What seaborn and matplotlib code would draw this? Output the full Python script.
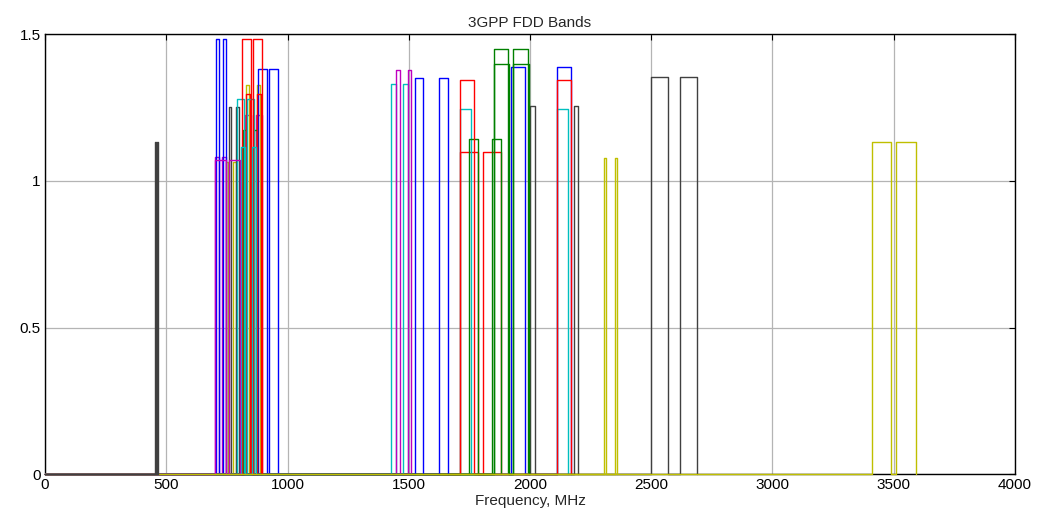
import matplotlib
matplotlib.use('Agg')
import matplotlib.pyplot as plt
import seaborn as sns

# 3GPP FDD bands: uplink / downlink edges in MHz
bands = [1, 2, 3, 4, 5, 6, 7, 8, 9, 10, 11, 12, 13, 14,
         17, 18, 19, 20, 21, 22, 23, 24, 25, 26, 27, 28, 30, 31]
ul_lo = [1920, 1850, 1710, 1710, 824, 830, 2500, 880, 1749.9, 1710, 1427.9, 699, 777, 788,
         704, 815, 830, 832, 1447.9, 3410, 2000, 1626.5, 1850, 814, 807, 703, 2305, 452.5]
ul_hi = [1980, 1910, 1785, 1755, 849, 840, 2570, 915, 1784.9, 1770, 1447.9, 716, 787, 798,
         716, 830, 845, 862, 1462.9, 3490, 2020, 1660.5, 1915, 849, 824, 748, 2315, 457.5]
dl_lo = [2110, 1930, 1805, 2110, 869, 875, 2620, 925, 1844.9, 2110, 1475.9, 729, 746, 758,
         734, 860, 875, 791, 1495.9, 3510, 2180, 1525, 1930, 859, 852, 758, 2350, 462.5]
dl_hi = [2170, 1990, 1880, 2155, 894, 885, 2690, 960, 1879.9, 2170, 1495.9, 746, 756, 768,
         746, 875, 890, 821, 1510.9, 3590, 2200, 1559, 1995, 894, 869, 803, 2360, 467.5]
# plotted height of each band
heights = [1.388, 1.450, 1.098, 1.247, 1.225, 1.327, 1.356, 1.383, 1.142, 1.343, 1.331, 1.083, 1.064, 1.251,
           1.484, 1.174, 1.297, 1.278, 1.378, 1.132, 1.257, 1.352, 1.400, 1.484, 1.115, 1.072, 1.080, 1.132]

# old MATLAB default colour order
colors = [(0, 0, 1), (0, 0.5, 0), (1, 0, 0), (0, 0.75, 0.75),
          (0.75, 0, 0.75), (0.75, 0.75, 0), (0.25, 0.25, 0.25)]

sns.set_style('white')
plt.rcParams['font.family'] = ['Liberation Sans', 'DejaVu Sans']

fig = plt.figure(figsize=(10.38, 5.21), dpi=100)
ax = fig.add_axes([45 / 1038, 1 - 474.3 / 521, 970 / 1038, 440 / 521])

for i, b in enumerate(bands):
    # two rectangles (UL and DL) joined along the baseline, starting at 0 MHz
    r1 = sorted([(ul_lo[i], ul_hi[i]), (dl_lo[i], dl_hi[i])])
    xs = [0]
    ys = [0]
    for lo, hi in r1:
        xs += [lo, lo, hi, hi]
        ys += [0, heights[i], heights[i], 0]
    sns.lineplot(x=xs, y=ys, sort=False, estimator=None, color=colors[i % 7],
                 linewidth=1.0, ax=ax, zorder=3, clip_on=False)

ax.set_xlim(0, 4000)
ax.set_ylim(0, 1.5)
ax.set_xticks(range(0, 4001, 500))
ax.set_yticks([0, 0.5, 1, 1.5])
ax.set_yticklabels(['0', '0.5', '1', '1.5'])
ax.grid(True, color='#b4b4b4', linestyle='-', linewidth=0.9)
ax.tick_params(direction='in', length=4, width=0.8, top=True, right=True,
               labelsize=11, colors='black', pad=3)
for s in ax.spines.values():
    s.set_color('black')
    s.set_linewidth(1.0)
    s.set_zorder(2)
ax.set_title('3GPP FDD Bands', fontsize=11, pad=5)
ax.set_xlabel('Frequency, MHz', fontsize=11, labelpad=1)

fig.savefig('out.png', dpi=100)
